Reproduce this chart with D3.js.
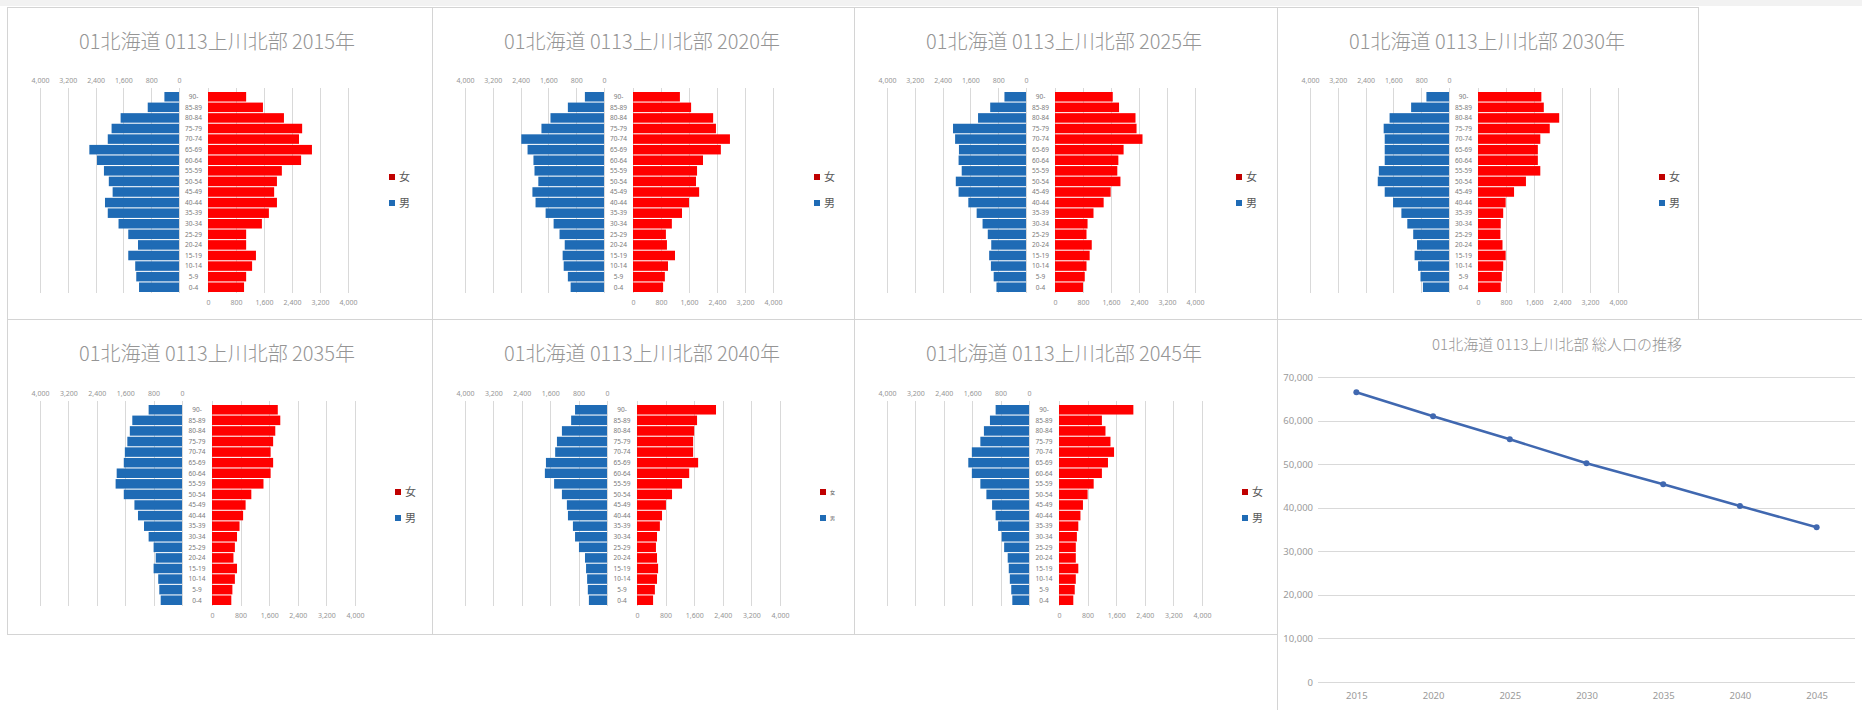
<!DOCTYPE html>
<html>
<head>
<meta charset="utf-8">
<script src="https://cdnjs.cloudflare.com/ajax/libs/d3/7.8.5/d3.min.js"></script>
<style>
  html, body { margin: 0; padding: 0; background: #ffffff; }
  svg { display: block; font-family: "Noto Sans CJK JP", "Noto Sans", sans-serif; }
</style>
</head>
<body>
<svg id="chart" width="1862" height="710"></svg>
<script>
// Age groups, top to bottom
var ages = ["90-", "85-89", "80-84", "75-79", "70-74", "65-69", "60-64", "55-59", "50-54",
            "45-49", "40-44", "35-39", "30-34", "25-29", "20-24", "15-19", "10-14", "5-9", "0-4"];
var axisTicks = [0, 800, 1600, 2400, 3200, 4000];
var legendLabels = ["女", "男"];

// Male / female counts per age group (same order as ages)
var male2015 = [420, 900, 1680, 1940, 2050, 2580, 2360, 2160, 2020, 1910, 2130, 2050, 1740, 1460, 1180, 1460, 1260, 1230, 1150];
var female2015 = [1090, 1570, 2170, 2690, 2600, 2970, 2660, 2110, 1970, 1890, 1970, 1740, 1540, 1090, 1090, 1370, 1260, 1090, 1030];
var male2020 = [550, 1040, 1540, 1800, 2380, 2200, 2030, 2000, 1890, 2060, 1970, 1680, 1450, 1280, 1130, 1190, 1160, 1040, 960];
var female2020 = [1340, 1660, 2290, 2370, 2770, 2510, 2000, 1830, 1800, 1890, 1600, 1400, 1110, 940, 970, 1200, 1000, 910, 860];
var male2025 = [620, 1030, 1380, 2100, 2040, 1930, 1940, 1850, 2020, 1940, 1660, 1420, 1250, 1100, 1000, 1060, 1010, 930, 850];
var female2025 = [1650, 1830, 2300, 2330, 2500, 1960, 1810, 1780, 1870, 1590, 1390, 1100, 930, 900, 1050, 990, 900, 850, 800];
var male2030 = [650, 1090, 1710, 1880, 1850, 1850, 1850, 2020, 2050, 1850, 1610, 1370, 1200, 1030, 920, 990, 890, 820, 750];
var female2030 = [1810, 1880, 2320, 2050, 1780, 1710, 1710, 1780, 1370, 1030, 790, 720, 650, 640, 700, 790, 720, 680, 650];
var male2035 = [940, 1400, 1470, 1540, 1610, 1640, 1840, 1870, 1640, 1340, 1240, 1070, 940, 800, 740, 800, 670, 640, 600];
var female2035 = [1840, 1910, 1770, 1710, 1640, 1710, 1640, 1440, 1100, 940, 870, 770, 700, 640, 600, 700, 640, 570, 540];
var male2040 = [900, 1010, 1270, 1410, 1460, 1720, 1750, 1490, 1270, 1130, 1100, 960, 900, 790, 620, 590, 560, 540, 510];
var female2040 = [2210, 1680, 1600, 1570, 1570, 1710, 1460, 1260, 980, 810, 700, 640, 560, 530, 560, 590, 560, 500, 450];
var male2045 = [940, 1100, 1270, 1370, 1610, 1710, 1610, 1370, 1200, 1040, 940, 870, 770, 700, 600, 570, 540, 500, 470];
var female2045 = [2080, 1200, 1300, 1440, 1540, 1370, 1200, 970, 800, 670, 600, 540, 500, 470, 470, 540, 470, 440, 400];

// Total population trend
var totalYears = ["2015", "2020", "2025", "2030", "2035", "2040", "2045"];
var totalPop = [66500, 61000, 55700, 50200, 45400, 40400, 35500];
var totalTicks = [0, 10000, 20000, 30000, 40000, 50000, 60000, 70000];

var titlePrefix = "01北海道 0113上川北部 ";

var pyramids = [
  {year: "2015年", male: male2015, female: female2015, x: 7,    y: 7,   w: 425, h: 312, row: 0},
  {year: "2020年", male: male2020, female: female2020, x: 432,  y: 7,   w: 422, h: 312, row: 0},
  {year: "2025年", male: male2025, female: female2025, x: 854,  y: 7,   w: 423, h: 312, row: 0},
  {year: "2030年", male: male2030, female: female2030, x: 1277, y: 7,   w: 421, h: 312, row: 0},
  {year: "2035年", male: male2035, female: female2035, x: 7,    y: 319, w: 425, h: 315, row: 1},
  {year: "2040年", male: male2040, female: female2040, x: 432,  y: 319, w: 422, h: 315, row: 1, tinyLegend: true},
  {year: "2045年", male: male2045, female: female2045, x: 854,  y: 319, w: 423, h: 315, row: 1}
];

// plot geometry inside a pyramid panel (per row)
var rowGeom = [
  {l4000: 33, l0: 172, r0: 201, r4000: 341, top: 85, bottom: 285, axTop: 73, axBottom: 296},
  {l4000: 33, l0: 175, r0: 205, r4000: 348, top: 86, bottom: 286, axTop: 74, axBottom: 297}
];

var maleColor = "#1f6bb5",
    femaleColor = "#ff0000",
    gridColor = "#d9d9d9",
    textColor = "#959595",
    borderColor = "#d4d4d4";

var svg = d3.select("#chart");

// light strip at the very top
svg.append("rect")
    .attr("x", 0).attr("y", 0)
    .attr("width", 1862).attr("height", 6)
    .attr("fill", "#f2f2f2");

pyramids.forEach(function(p) {
  drawPyramid(p);
});

drawTotal({x: 1277, y: 319, w: 620, h: 420});

function drawPyramid(p) {
  var g = svg.append("g")
      .attr("transform", "translate(" + p.x + "," + p.y + ")");
  var geo = rowGeom[p.row];

  g.append("rect")
      .attr("x", 0.5).attr("y", 0.5)
      .attr("width", p.w).attr("height", p.h)
      .attr("fill", "#ffffff")
      .attr("stroke", borderColor);

  // Title
  g.append("text")
      .attr("x", 210)
      .attr("y", 35)
      .attr("dy", "0.35em")
      .attr("text-anchor", "middle")
      .attr("font-size", 20)
      .attr("font-weight", 300)
      .attr("fill", textColor)
      .text(titlePrefix + p.year);

  var xL = d3.scaleLinear().domain([0, 4000]).range([geo.l0, geo.l4000]),
      xR = d3.scaleLinear().domain([0, 4000]).range([geo.r0, geo.r4000]),
      y = d3.scaleBand().domain(ages).range([geo.top, geo.bottom]).paddingInner(0.1);

  // gridlines (bars will cover the inner ones)
  g.append("g").selectAll("line")
      .data(axisTicks)
    .enter().append("line")
      .attr("x1", function(d) { return Math.round(xL(d)) + 0.5; })
      .attr("x2", function(d) { return Math.round(xL(d)) + 0.5; })
      .attr("y1", geo.top - 4).attr("y2", geo.bottom + 1)
      .attr("stroke", gridColor);
  g.append("g").selectAll("line")
      .data(axisTicks)
    .enter().append("line")
      .attr("x1", function(d) { return Math.round(xR(d)) + 0.5; })
      .attr("x2", function(d) { return Math.round(xR(d)) + 0.5; })
      .attr("y1", geo.top - 4).attr("y2", geo.bottom + 1)
      .attr("stroke", gridColor);

  // Axes
  var axL = g.append("g")
      .attr("transform", "translate(0," + (geo.axTop + 3) + ")")
      .call(d3.axisTop(xL).tickValues(axisTicks).tickSize(0).tickPadding(0).tickFormat(d3.format(",")));
  var axR = g.append("g")
      .attr("transform", "translate(0," + (geo.axBottom - 3) + ")")
      .call(d3.axisBottom(xR).tickValues(axisTicks).tickSize(0).tickPadding(0).tickFormat(d3.format(",")));
  [axL, axR].forEach(function(a) {
    a.select(".domain").remove();
    a.selectAll("text")
        .attr("font-size", 7)
        .attr("font-family", "'Noto Sans', sans-serif")
        .attr("fill", textColor);
  });

  // Bars
  g.append("g").selectAll("rect")
      .data(p.male)
    .enter().append("rect")
      .attr("x", function(d) { return xL(d); })
      .attr("y", function(d, i) { return y(ages[i]); })
      .attr("width", function(d) { return xL(0) - xL(d); })
      .attr("height", y.bandwidth())
      .attr("fill", maleColor);

  g.append("g").selectAll("rect")
      .data(p.female)
    .enter().append("rect")
      .attr("x", xR(0))
      .attr("y", function(d, i) { return y(ages[i]); })
      .attr("width", function(d) { return xR(d) - xR(0); })
      .attr("height", y.bandwidth())
      .attr("fill", femaleColor);

  // age labels between the halves
  g.append("g").selectAll("text")
      .data(ages)
    .enter().append("text")
      .attr("x", (geo.l0 + geo.r0) / 2)
      .attr("y", function(d) { return y(d) + y.bandwidth() / 2; })
      .attr("dy", "0.35em")
      .attr("text-anchor", "middle")
      .attr("font-size", 6.5)
      .attr("font-family", "'Noto Sans', sans-serif")
      .attr("fill", "#7a7a7a")
      .text(function(d) { return d; });

  // Legend
  var legend = g.append("g")
      .attr("transform", "translate(" + (p.row ? 388 : 382) + "," + (p.row ? 173 : 170) + ")");
  var legendColors = ["#c00000", maleColor];
  legendLabels.forEach(function(lab, i) {
    legend.append("rect")
        .attr("x", 0).attr("y", i * 26 - 3)
        .attr("width", 6).attr("height", 6)
        .attr("fill", legendColors[i]);
    legend.append("text")
        .attr("x", 10).attr("y", i * 26)
        .attr("dy", "0.35em")
        .attr("font-size", p.tinyLegend ? 5 : 11)
        .attr("fill", "#595959")
        .text(lab);
  });
}

function drawTotal(p) {
  var g = svg.append("g")
      .attr("transform", "translate(" + p.x + "," + p.y + ")");

  g.append("rect")
      .attr("x", 0.5).attr("y", 0.5)
      .attr("width", p.w).attr("height", p.h)
      .attr("fill", "#ffffff")
      .attr("stroke", borderColor);

  g.append("text")
      .attr("x", 280)
      .attr("y", 26)
      .attr("dy", "0.35em")
      .attr("text-anchor", "middle")
      .attr("font-size", 15)
      .attr("font-weight", 300)
      .attr("fill", textColor)
      .text(titlePrefix + "総人口の推移");

  var plot = {left: 41, right: 578, top: 58, bottom: 363};
  var x = d3.scalePoint().domain(totalYears).range([plot.left, plot.right]).padding(0.5),
      y = d3.scaleLinear().domain([0, 70000]).range([plot.bottom, plot.top]);

  // horizontal gridlines
  g.append("g").selectAll("line")
      .data(totalTicks)
    .enter().append("line")
      .attr("x1", plot.left).attr("x2", plot.right)
      .attr("y1", function(d) { return Math.round(y(d)) + 0.5; })
      .attr("y2", function(d) { return Math.round(y(d)) + 0.5; })
      .attr("stroke", gridColor);

  var yAxis = g.append("g")
      .attr("transform", "translate(" + (plot.left - 5) + ",0)")
      .call(d3.axisLeft(y).tickValues(totalTicks).tickSize(0).tickPadding(0).tickFormat(d3.format(",")));
  var xAxis = g.append("g")
      .attr("transform", "translate(0," + (y(0) + 10) + ")")
      .call(d3.axisBottom(x).tickSize(0).tickPadding(0));
  [xAxis, yAxis].forEach(function(a) {
    a.select(".domain").remove();
    a.selectAll("text")
        .attr("font-size", 9.5)
        .attr("font-family", "'Noto Sans', sans-serif")
        .attr("fill", "#9a9a9a");
  });

  var line = d3.line()
      .x(function(d, i) { return x(totalYears[i]); })
      .y(function(d) { return y(d); });

  g.append("path")
      .datum(totalPop)
      .attr("fill", "none")
      .attr("stroke", "#4068b0")
      .attr("stroke-width", 2.5)
      .attr("d", line);

  g.append("g").selectAll("circle")
      .data(totalPop)
    .enter().append("circle")
      .attr("r", 3)
      .attr("cx", function(d, i) { return x(totalYears[i]); })
      .attr("cy", function(d) { return y(d); })
      .attr("fill", "#4068b0");
}
</script>
</body>
</html>
